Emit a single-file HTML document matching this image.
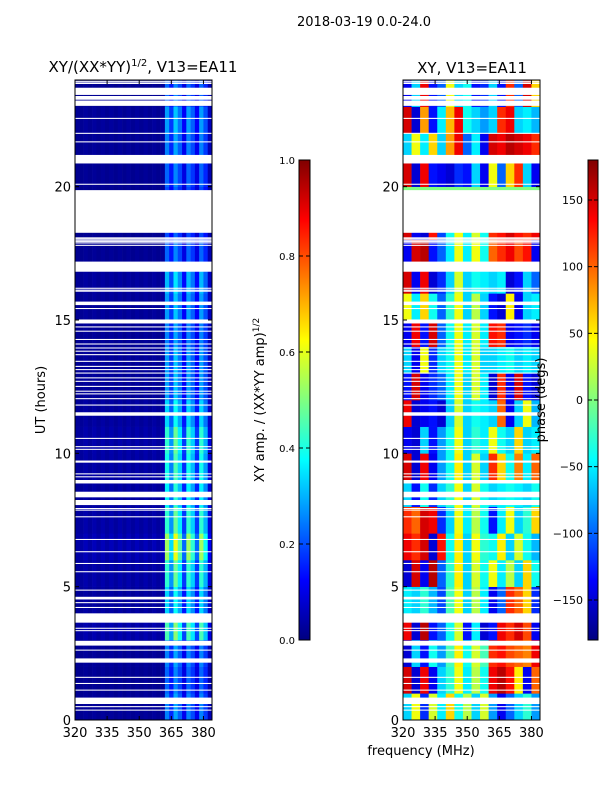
<!DOCTYPE html>
<html><head><meta charset="utf-8"><style>
html,body{margin:0;padding:0;background:#fff;}
svg{display:block;font-family:"DejaVu Sans","Liberation Sans",sans-serif;}
</style></head><body>
<svg id="fig" width="600" height="800" viewBox="0 0 600 800" xmlns="http://www.w3.org/2000/svg">
<defs>
<linearGradient id="jetg" x1="0" y1="1" x2="0" y2="0"></linearGradient>
</defs>
<text x="364" y="26" font-size="13" text-anchor="middle">2018-03-19 0.0-24.0</text>
<text x="143" y="72" font-size="15" text-anchor="middle">XY/(XX*YY)<tspan font-size="10" dy="-6">1/2</tspan><tspan dy="6">, V13=EA11</tspan></text>
<text x="472" y="73" font-size="15" text-anchor="middle">XY, V13=EA11</text>
<g id="left"></g>
<g id="right"></g>
<g id="axes"></g>
<text transform="translate(45,400) rotate(-90)" font-size="13" text-anchor="middle">UT (hours)</text>
<text x="421" y="755" font-size="13" text-anchor="middle">frequency (MHz)</text>
<rect x="299" y="160" width="11" height="480" fill="url(#jetg)" stroke="#000" stroke-width="1"/>
<rect x="588" y="160" width="10" height="480" fill="url(#jetg)" stroke="#000" stroke-width="1"/>
<text transform="translate(264,400) rotate(-90)" font-size="13" text-anchor="middle">XY amp. / (XX*YY amp)<tspan font-size="9" dy="-5">1/2</tspan></text>
<text transform="translate(545,400) rotate(-90)" font-size="13" text-anchor="middle">phase (degs)</text>
<g id="cb"></g>
</svg>
<script>
// ---- data ----
const ampChannels = [320,322,324,326,328,330,332,334,336,338,340,342,344,346,348,350,352,354,356,358,360,362,364,366,368,370,372,374,376,378,380,382];
const ampChannelProfile = [0.02,0.02,0.03,0.02,0.03,0.02,0.03,0.02,0.03,0.02,0.03,0.02,0.03,0.02,0.03,0.02,0.03,0.02,0.03,0.02,0.03,0.28,0.18,0.32,0.24,0.12,0.28,0.22,0.12,0.28,0.2,0.06];
const ampHourFactor = [0.9,0.8,0.9,1.6,1.2,1.5,1.9,1.5,1.3,1.4,1.5,1.2,1.0,1.0,0.9,1.0,1.1,0.8,0.7,0.7,0.8,0.9,1.0,0.8];
const phaseChannels = [320,324,328,332,336,340,344,348,352,356,360,364,368,372,376,380];
const phaseRows = [
[-60,40,-120,30,-50,60,-40,20,-60,30,-80,-140,-100,-60,-30,-80],
[150,-150,140,-140,-60,-30,40,-50,20,-40,140,160,130,50,-140,100],
[-150,-60,-130,-40,-80,-20,50,-40,30,-20,120,130,110,100,90,140],
[140,-150,160,-130,-100,-40,30,-130,-50,-150,-130,140,120,150,110,-140],
[-50,-60,-30,-70,-110,-20,40,-60,20,-50,-140,-100,120,100,60,-120],
[-150,150,-140,160,-100,-30,50,-60,30,-40,40,-50,20,-60,60,-40],
[140,120,150,-150,130,-40,50,-60,40,-30,-40,50,-60,30,-40,-70],
[120,100,150,140,-120,-60,40,-50,20,-40,-130,-50,40,-60,-30,60],
[-60,-130,-40,-120,-60,-30,40,-60,30,-40,-60,-50,-40,-50,-60,-40],
[150,-150,140,-140,-80,-40,50,-60,30,-60,120,60,-40,90,-50,100],
[-140,-150,-60,-130,-80,-40,40,-60,-30,-50,40,-40,-60,60,-60,-50],
[140,-150,-140,-130,-150,-60,30,-60,-40,-50,-60,100,-140,-60,40,-70],
[-130,150,-140,-120,-100,-50,40,-60,30,-50,-150,120,-140,150,-130,-150],
[-60,-140,40,-120,-60,-40,40,-50,30,-60,-60,-50,-40,-60,-50,-60],
[-140,140,-130,150,-100,-40,40,-50,30,-50,130,120,-140,-130,-120,-140],
[40,-50,60,-40,-100,-30,40,-60,20,-60,-130,-150,50,-140,-60,-50],
[150,-140,140,-150,-120,-60,30,-60,-40,-50,-60,-50,-150,-130,-60,-100],
[-140,150,160,-130,-100,-50,40,-50,40,-40,100,120,140,110,130,-140],
[150,-140,-150,130,-110,-40,40,-50,30,-40,120,130,150,130,120,140],
[0,0,0,0,0,0,0,0,0,0,0,0,0,0,0,0],
[150,-150,140,-130,-140,-150,-120,-130,-60,-140,40,-100,60,120,-60,-140],
[-60,40,-50,60,-60,80,140,-100,-50,-140,150,140,160,150,140,120],
[150,-150,80,-130,-50,70,140,-40,-60,-80,-60,120,140,-60,-50,-70],
[-140,-60,140,-130,-100,40,-60,-40,-130,-120,-60,-130,120,-100,150,60]];
const gapStarts = [23.93,23.85,23.44,23.26,23.03,22.54,21.98,21.66,20.87,20.07,18.27,18.06,18.02,17.97,17.92,17.87,17.78,16.81,16.17,16.1,16.06,15.56,15.41,14.87,14.72,14.56,14.25,14.08,13.93,13.81,13.68,13.43,13.24,13.12,12.99,12.81,12.68,12.49,12.31,12.21,12.03,11.79,11.41,10.54,10.23,10.13,9.65,9.21,9.1,8.87,8.35,8.06,7.91,7.85,7.6,6.75,6.29,5.85,5.54,4.85,4.52,4.38,4.2,3.65,3.42,3.33,2.79,2.6,2.15,1.58,1.35,1.1,0.6,0.48,0.35];
const gapEnds   = [23.97,23.91,23.71,23.40,23.23,22.58,22.02,21.70,21.19,20.11,19.87,18.10,18.06,18.01,17.96,17.91,17.82,17.19,16.21,16.14,16.10,15.69,15.45,15.02,14.76,14.60,14.29,14.12,13.97,13.85,13.72,13.47,13.28,13.16,13.03,12.85,12.72,12.53,12.35,12.25,12.07,11.83,11.54,10.58,10.27,10.17,9.73,9.25,9.14,9.00,8.56,8.25,7.95,7.89,7.64,6.79,6.33,5.89,5.58,4.89,4.62,4.42,4.24,4.00,3.46,3.37,2.97,2.64,2.31,1.62,1.39,1.14,0.84,0.52,0.39];
const yTicks = [0,5,10,15,20];
const xTicks = [320,335,350,365,380];
const ampCbTicks = [0.0,0.2,0.4,0.6,0.8,1.0];
const phaseCbTicks = [-150,-100,-50,0,50,100,150];

// ---- scales ----
const NS='http://www.w3.org/2000/svg';
const Y0=720, Y1=80, F0=320, F1=384;
const PANELS=[75,403], PW=137;
function yS(h){return Y0-(h/24)*(Y0-Y1);}
function xS(px,f){return px+(f-F0)/(F1-F0)*PW;}
function jet(v){v=Math.max(0,Math.min(1,v));
 const r=Math.max(0,Math.min(1,1.5-Math.abs(4*v-3))),g=Math.max(0,Math.min(1,1.5-Math.abs(4*v-2))),b=Math.max(0,Math.min(1,1.5-Math.abs(4*v-1)));
 return 'rgb('+Math.round(r*255)+','+Math.round(g*255)+','+Math.round(b*255)+')';}
function mk(t,a,p){const e=document.createElementNS(NS,t);for(const k in a)e.setAttribute(k,a[k]);p.appendChild(e);return e;}

const grad=document.getElementById('jetg');
for(let i=0;i<=40;i++){mk('stop',{offset:i/40,'stop-color':jet(i/40)},grad);}

const L=document.getElementById('left'), R=document.getElementById('right'), A=document.getElementById('axes'), CB=document.getElementById('cb');
for(let h=0;h<24;h++){
 for(let c=0;c<ampChannels.length;c++){
  const f0=ampChannels[c], f1=c+1<ampChannels.length?ampChannels[c+1]:F1;
  const x0=xS(PANELS[0],f0), x1=xS(PANELS[0],f1);
  const r=mk('rect',{x:x0,y:yS(h+1),width:x1-x0+0.3,height:yS(h)-yS(h+1)+0.3,fill:jet(ampChannelProfile[c]*ampHourFactor[h])},L);
  
  
 }
 for(let c=0;c<phaseChannels.length;c++){
  const f0=phaseChannels[c], f1=c+1<phaseChannels.length?phaseChannels[c+1]:F1;
  const x0=xS(PANELS[1],f0), x1=xS(PANELS[1],f1);
  const r=mk('rect',{x:x0,y:yS(h+1),width:x1-x0+0.3,height:yS(h)-yS(h+1)+0.3,fill:jet((phaseRows[h][c]+180)/360)},R);
  
  
 }
}
for(const px of PANELS){
 for(let i=0;i<gapStarts.length;i++){
  const y=yS(gapEnds[i]), hgt=yS(gapStarts[i])-y;
  const g=mk('rect',{x:px,y:y,width:PW,height:Math.max(1,hgt),fill:'#fff'},A);
  
  
 }
 const fr=mk('rect',{x:px,y:Y1,width:PW,height:Y0-Y1,fill:'none',stroke:'#000','stroke-width':1},A);
 
 
 for(const t of yTicks){
  const y=yS(t);
  mk('line',{x1:px,x2:px+4,y1:y,y2:y,stroke:'#000'},A);
  mk('line',{x1:px+PW-4,x2:px+PW,y1:y,y2:y,stroke:'#000'},A);
  const tx=mk('text',{x:px-4,y:y+5,'font-size':13,'text-anchor':'end'},A);tx.textContent=t;
  
  
 }
 for(const t of xTicks){
  const x=xS(px,t);
  mk('line',{x1:x,x2:x,y1:Y0,y2:Y0-4,stroke:'#000'},A);
  mk('line',{x1:x,x2:x,y1:Y1,y2:Y1+4,stroke:'#000'},A);
  const tx=mk('text',{x:x,y:Y0+17,'font-size':13,'text-anchor':'middle'},A);tx.textContent=t;
  
  
 }
}
for(const t of ampCbTicks){
 const y=640-t*480;
 mk('line',{x1:299,x2:303,y1:y,y2:y,stroke:'#000'},CB);
 mk('line',{x1:306,x2:310,y1:y,y2:y,stroke:'#000'},CB);
 const tx=mk('text',{x:295,y:y+4,'font-size':10,'text-anchor':'end'},CB);tx.textContent=t.toFixed(1);
 
 
}
for(const t of phaseCbTicks){
 const y=400-t*480/360;
 mk('line',{x1:588,x2:592,y1:y,y2:y,stroke:'#000'},CB);
 mk('line',{x1:594,x2:598,y1:y,y2:y,stroke:'#000'},CB);
 const tx=mk('text',{x:583,y:y+4,'font-size':11,'text-anchor':'end'},CB);tx.textContent=(t<0?'\u2212'+(-t):t);
 
 
}
</script>
</body></html>
